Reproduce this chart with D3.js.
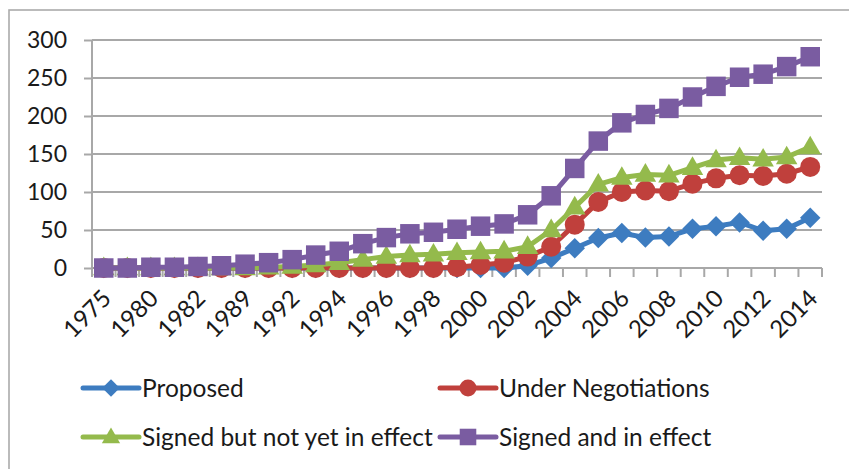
<!DOCTYPE html>
<html>
<head>
<meta charset="utf-8">
<script src="https://cdn.jsdelivr.net/npm/d3@7"></script>
<style>
  html, body { margin: 0; padding: 0; background: #fff; }
  svg { display: block; font-family: Lato, "Open Sans", sans-serif; }
</style>
</head>
<body>
<svg id="chart" width="849" height="469"></svg>
<script>
// categories (only every other one is labelled on the axis)
const years = ['1975', '1977', '1980', '1981', '1982', '1987', '1989', '1991',
    '1992', '1993', '1994', '1995', '1996', '1997', '1998', '1999', '2000',
    '2001', '2002', '2003', '2004', '2005', '2006', '2007', '2008', '2009',
    '2010', '2011', '2012', '2013', '2014'];

const proposed = [0, 0, 0, 0, 0, 0, 0, 0, 0, 0, 0, 0, 0, 0, 0, 0, 0, 0, 3, 13,
    26, 39.5, 46, 40, 41.5, 51.5, 55, 60, 49, 51.5, 66];
const underNegotiations = [0, 0, 0, 0, 0, 0, 0, 0, 0, 0, 0, 0, 0, 0, 0, 1, 4, 7,
    15, 28, 57, 87, 100, 102, 101, 111, 118, 122, 121, 124, 133];
const signedNotInEffect = [0, 0, 0, 0, 0, 0, 0, 1, 2, 4, 7, 11, 15, 17, 18, 20,
    21, 22, 28, 50, 80, 110, 119, 123, 122, 132, 142, 145, 143, 146, 159];
const signedInEffect = [0, 0, 1, 1, 2, 3, 5, 7, 11, 17, 22, 32, 40, 45, 47, 51,
    55, 58, 70, 95, 131, 167, 191, 202, 210, 225, 239, 251, 255, 265, 278];

const yTicks = [0, 50, 100, 150, 200, 250, 300];

const series = [
    { name: 'Proposed', values: proposed, color: '#3D7CC0', shape: 'diamond' },
    { name: 'Under Negotiations', values: underNegotiations, color: '#C0403C', shape: 'circle' },
    { name: 'Signed but not yet in effect', values: signedNotInEffect, color: '#94BA4C', shape: 'triangle' },
    { name: 'Signed and in effect', values: signedInEffect, color: '#7A5CA1', shape: 'square' }
];

const svg = d3.select('#chart');
const plot = { left: 92, right: 822, top: 40, bottom: 268 };
const gridColor = '#A8A8A8';

// outer chart border (runs off the right and bottom of the picture)
svg.append('rect')
    .attr('x', 9).attr('y', 10)
    .attr('width', 900).attr('height', 500)
    .attr('fill', 'none')
    .attr('stroke', '#ABABAB')
    .attr('stroke-width', 1.6);

const x = d3.scaleBand().domain(years).range([plot.left, plot.right]);
const cx = d => x(d) + x.bandwidth() / 2;
const y = d3.scaleLinear().domain([0, 300]).range([plot.bottom, plot.top]);

// gridlines + y axis
const yAxis = svg.append('g')
    .attr('transform', `translate(${plot.left},0)`)
    .call(d3.axisLeft(y).tickValues(yTicks).tickSize(8).tickPadding(17));
yAxis.select('.domain').remove();
yAxis.selectAll('.tick line').attr('stroke', gridColor).attr('stroke-width', 2);
yAxis.selectAll('.tick text')
    .attr('fill', '#1a1a1a')
    .style('font-family', 'Lato, sans-serif')
    .style('font-size', '23px');

svg.append('g')
    .selectAll('line')
    .data(yTicks)
    .join('line')
    .attr('x1', plot.left).attr('x2', plot.right)
    .attr('y1', d => y(d)).attr('y2', d => y(d))
    .attr('stroke', gridColor)
    .attr('stroke-width', 2);

svg.append('line')
    .attr('x1', plot.left).attr('x2', plot.left)
    .attr('y1', plot.top).attr('y2', plot.bottom + 9)
    .attr('stroke', gridColor).attr('stroke-width', 2);

// x tick marks at category boundaries
const boundaries = years.map(d => x(d)).concat([plot.right]);
svg.append('g')
    .selectAll('line')
    .data(boundaries)
    .join('line')
    .attr('x1', d => d).attr('x2', d => d)
    .attr('y1', plot.bottom).attr('y2', plot.bottom + 9)
    .attr('stroke', gridColor).attr('stroke-width', 2);

// rotated year labels, every other category
svg.append('g')
    .selectAll('text')
    .data(years.filter((d, i) => i % 2 === 0))
    .join('text')
    .attr('transform', d => `translate(${cx(d) + 3},${plot.bottom + 26}) rotate(-45)`)
    .attr('text-anchor', 'end')
    .attr('dy', '0.35em')
    .attr('fill', '#1a1a1a')
    .style('font-size', '24px')
    .text(d => d);

function symbolPath(shape, k) {
    if (shape === 'circle') return d3.symbol(d3.symbolCircle, 314 * k * k)();
    if (shape === 'square') return d3.symbol(d3.symbolSquare, 380 * k * k)();
    if (shape === 'triangle') return d3.symbol(d3.symbolTriangle, 200 * k * k)();
    return d3.symbol(d3.symbolSquare, 210 * k * k)();
}
function symbolTransform(shape, px, py) {
    if (shape === 'diamond') return `translate(${px},${py}) rotate(45)`;
    if (shape === 'triangle') return `translate(${px},${py + 1})`;
    return `translate(${px},${py})`;
}

const line = d3.line()
    .x((d, i) => cx(years[i]))
    .y(d => y(d));

series.forEach(s => {
    const g = svg.append('g');
    g.append('path')
        .datum(s.values)
        .attr('d', line)
        .attr('fill', 'none')
        .attr('stroke', s.color)
        .attr('stroke-width', 5)
        .attr('stroke-linejoin', 'round');
    g.selectAll('path.mark')
        .data(s.values)
        .join('path')
        .attr('class', 'mark')
        .attr('d', symbolPath(s.shape, 1))
        .attr('transform', (d, i) => symbolTransform(s.shape, cx(years[i]), y(d)))
        .attr('fill', s.color);
});

// legend, two columns by two rows
const legendPos = [
    { x: 83, y: 388 }, { x: 440, y: 388 },
    { x: 83, y: 437 }, { x: 440, y: 437 }
];
const legend = svg.append('g')
    .selectAll('g')
    .data(series)
    .join('g')
    .attr('transform', (d, i) => `translate(${legendPos[i].x},${legendPos[i].y})`);

legend.append('line')
    .attr('x1', 0).attr('x2', 56)
    .attr('stroke', d => d.color)
    .attr('stroke-width', 5)
    .attr('stroke-linecap', 'round');
legend.append('path')
    .attr('d', d => symbolPath(d.shape, 0.85))
    .attr('transform', d => symbolTransform(d.shape, 28, 0))
    .attr('fill', d => d.color);
legend.append('text')
    .attr('x', 59)
    .attr('dy', '0.35em')
    .attr('fill', '#1a1a1a')
    .style('font-size', '24.5px')
    .text(d => d.name);
</script>
</body>
</html>
